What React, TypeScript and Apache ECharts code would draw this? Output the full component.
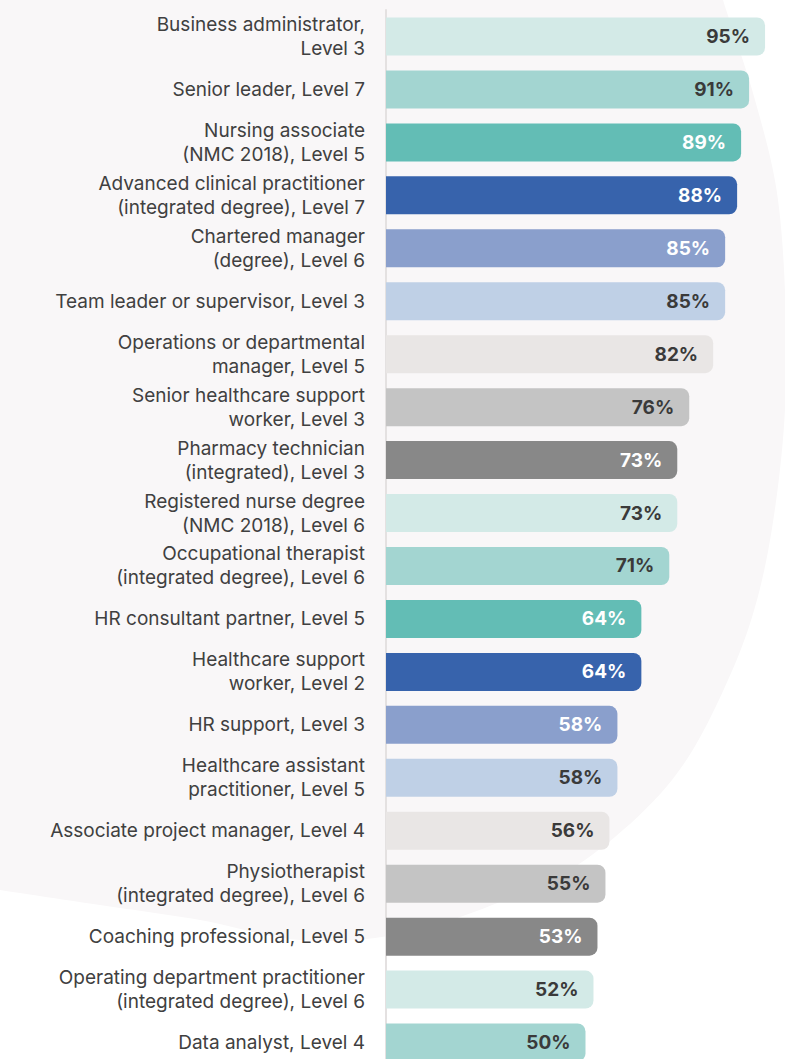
import React, { useEffect, useRef } from "react";
import * as echarts from "echarts";

const categories: string[] = [
  "Business administrator,\nLevel 3",
  "Senior leader, Level 7",
  "Nursing associate\n(NMC 2018), Level 5",
  "Advanced clinical practitioner\n(integrated degree), Level 7",
  "Chartered manager\n(degree), Level 6",
  "Team leader or supervisor, Level 3",
  "Operations or departmental\nmanager, Level 5",
  "Senior healthcare support\nworker, Level 3",
  "Pharmacy technician\n(integrated), Level 3",
  "Registered nurse degree\n(NMC 2018), Level 6",
  "Occupational therapist\n(integrated degree), Level 6",
  "HR consultant partner, Level 5",
  "Healthcare support\nworker, Level 2",
  "HR support, Level 3",
  "Healthcare assistant\npractitioner, Level 5",
  "Associate project manager, Level 4",
  "Physiotherapist\n(integrated degree), Level 6",
  "Coaching professional, Level 5",
  "Operating department practitioner\n(integrated degree), Level 6",
  "Data analyst, Level 4",
];

const values: number[] = [95, 91, 89, 88, 85, 85, 82, 76, 73, 73, 71, 64, 64, 58, 58, 56, 55, 53, 52, 50];

const barPalette: string[] = [
  "#d3eae7", "#a3d5d1", "#63bdb5", "#3763ac", "#8a9fcc",
  "#bfd0e6", "#e9e6e5", "#c4c4c4", "#888888",
];
const labelPalette: string[] = [
  "#3a3a3a", "#3a3a3a", "#ffffff", "#ffffff", "#ffffff",
  "#3a3a3a", "#3a3a3a", "#3a3a3a", "#ffffff",
];

const blobPoints: number[][] = [
  [716, -30], [723, 0], [755, 100], [778, 200], [786, 330], [782, 450],
  [762, 580], [728, 680], [672, 780], [585, 860], [500, 902], [400, 934],
  [300, 940], [200, 920], [100, 905], [0, 890], [-30, 884],
];

function catmull(points: number[][], steps: number): number[][] {
  const out: number[][] = [];
  for (let i = 0; i < points.length - 1; i++) {
    const p0 = points[Math.max(0, i - 1)];
    const p1 = points[i];
    const p2 = points[i + 1];
    const p3 = points[Math.min(points.length - 1, i + 2)];
    for (let s = 0; s < steps; s++) {
      const t = s / steps;
      const t2 = t * t;
      const t3 = t2 * t;
      const x =
        0.5 * (2 * p1[0] + (-p0[0] + p2[0]) * t + (2 * p0[0] - 5 * p1[0] + 4 * p2[0] - p3[0]) * t2 + (-p0[0] + 3 * p1[0] - 3 * p2[0] + p3[0]) * t3);
      const y =
        0.5 * (2 * p1[1] + (-p0[1] + p2[1]) * t + (2 * p0[1] - 5 * p1[1] + 4 * p2[1] - p3[1]) * t2 + (-p0[1] + 3 * p1[1] - 3 * p2[1] + p3[1]) * t3);
      out.push([x, y]);
    }
  }
  out.push(points[points.length - 1]);
  return out;
}

export default function App() {
  const ref = useRef<HTMLDivElement>(null);
  useEffect(() => {
    if (!ref.current) return;
    const chart = echarts.init(ref.current, null, { renderer: "svg" });
    const font = "Inter, 'Noto Sans', sans-serif";
    const curve = catmull(blobPoints, 12);
    const poly = [[-30, -30], ...curve];
    chart.setOption({
      animation: false,
      backgroundColor: "#ffffff",
      graphic: [
        {
          type: "polygon",
          z: -10,
          silent: true,
          shape: { points: poly },
          style: { fill: "#f9f7f8" },
        },
      ],
      grid: { left: 386, right: 0, top: 10, bottom: 11, containLabel: false },
      xAxis: { type: "value", min: 0, max: 100, show: false },
      yAxis: {
        type: "category",
        data: categories,
        inverse: true,
        axisTick: { show: false },
        axisLine: { show: true, lineStyle: { color: "#e4e1e1", width: 2 } },
        axisLabel: {
          fontFamily: font,
          fontSize: 19,
          lineHeight: 24,
          color: "#404040",
          margin: 21,
          align: "right",
        },
      },
      series: [
        {
          type: "bar",
          barWidth: 38,
          data: values.map((v, i) => ({
            value: v,
            itemStyle: { color: barPalette[i % barPalette.length] },
            label: { color: labelPalette[i % labelPalette.length] },
          })),
          itemStyle: { borderRadius: [0, 8, 8, 0] },
          label: {
            show: true,
            position: "insideRight",
            distance: 15,
            formatter: "{c}%",
            fontFamily: font,
            fontWeight: "bold",
            fontSize: 19,
          },
        },
      ],
    });
    return () => chart.dispose();
  }, []);
  return (
    <div style={{ position: "fixed", left: 0, top: 0, width: 785, height: 1059, overflow: "hidden" }}>
      <div ref={ref} style={{ width: 785, height: 1080 }} />
    </div>
  );
}
